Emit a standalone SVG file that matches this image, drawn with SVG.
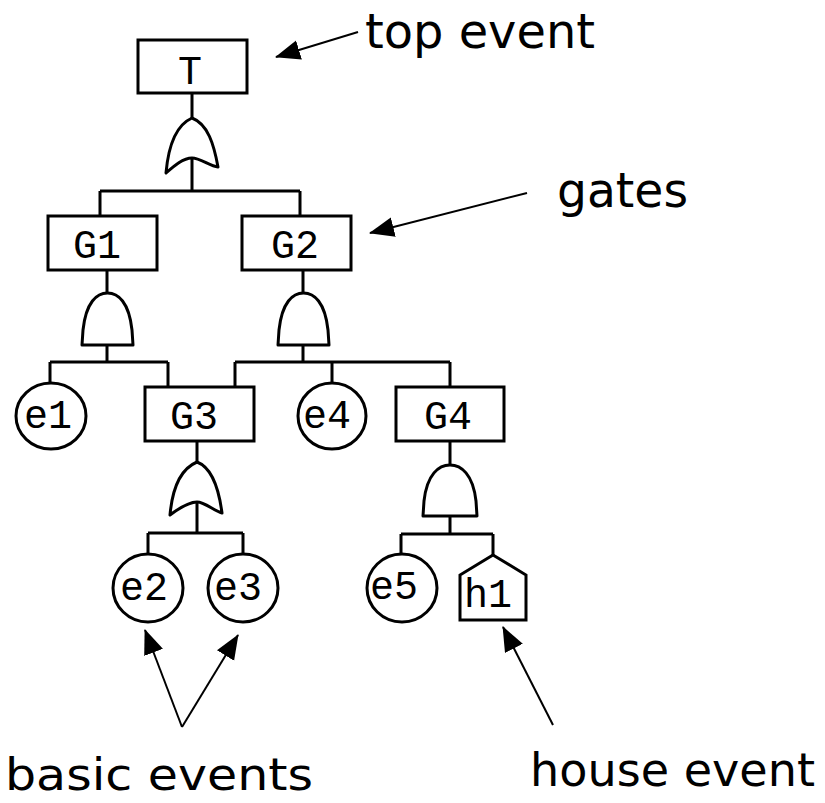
<svg xmlns="http://www.w3.org/2000/svg" width="825" height="803" viewBox="0 0 825 803">
<defs>
<style>
.b{fill:#fff;stroke:#000;stroke-width:3}
.g{fill:#fff;stroke:#000;stroke-width:3;stroke-linejoin:round}
.w{fill:none;stroke:#000;stroke-width:3}
.t{font-family:"Liberation Mono","DejaVu Sans Mono",monospace;font-size:40px;text-anchor:middle;fill:#000}
.lab{font-family:"DejaVu Sans","Open Sans",sans-serif;fill:#000}
.a{fill:none;stroke:#000;stroke-width:2;marker-end:url(#ah)}
</style>
<marker id="ah" markerUnits="userSpaceOnUse" markerWidth="26" markerHeight="22" refX="24" refY="10" orient="auto">
<path d="M0,0 L25,10 L0,20 Z" fill="#000"/>
</marker>
</defs>
<rect width="825" height="803" fill="#fff"/>

<g id="connectors">
<path class="w" d="M192,93 V118 M192,158 V191 M100,191 H300 M100,191 V216 M300,191 V216"/>
<path class="w" d="M107,270 V293 M107,345 V362 M50,362 H168 M50,362 V383 M168,362 V387"/>
<path class="w" d="M303,270 V293 M303,345 V362 M235,362 H450 M235,362 V387 M332,362 V383 M450,362 V387"/>
<path class="w" d="M197,441 V462 M197,502 V533 M148,533 H243 M148,533 V554 M243,533 V554"/>
<path class="w" d="M450,441 V465 M450,516 V534 M401,534 H493 M401,534 V554 M493,534 V555"/>
</g>

<g id="T"><rect class="b" x="138" y="40" width="109" height="53"/><text class="t" x="190" y="84">T</text></g>
<g id="orT"><path class="g" d="M166,173 C168,150 174,126 192,118 C208,124 214,145 218,167 C210,166 200,158 192,158 C183,158 174,166 166,173 Z"/></g>

<g id="G1"><rect class="b" x="48" y="216" width="109" height="54"/><text class="t" x="97" y="258">G1</text></g>
<g id="G2"><rect class="b" x="242" y="216" width="109" height="54"/><text class="t" x="295" y="258">G2</text></g>
<g id="andG1"><path class="g" d="M82,345 L83,330 C86,302 97,293 107.5,293 C118,293 129,302 132,330 L133,345 Z"/></g>
<g id="andG2"><path class="g" d="M278,345 L279,330 C282,302 293,293 303.5,293 C314,293 325,302 328,330 L329,345 Z"/></g>

<g id="e1"><ellipse class="b" cx="51" cy="416" rx="35" ry="33"/><text class="t" x="48" y="428">e1</text></g>
<g id="G3"><rect class="b" x="145" y="387" width="109" height="54"/><text class="t" x="194" y="429">G3</text></g>
<g id="e4"><ellipse class="b" cx="332" cy="416" rx="34" ry="33"/><text class="t" x="327" y="428">e4</text></g>
<g id="G4"><rect class="b" x="396" y="387" width="108" height="54"/><text class="t" x="448" y="429">G4</text></g>

<g id="orG3"><path class="g" d="M170,515 C172,492 178,470 197,462 C213,468 219,490 222,513 C214,511 205,502 197,502 C188,502 178,509 170,515 Z"/></g>
<g id="andG4"><path class="g" d="M423,516 L424,501 C427,474 439,465 450,465 C461,465 473,474 476,501 L477,516 Z"/></g>

<g id="e2"><ellipse class="b" cx="148" cy="588" rx="35" ry="34"/><text class="t" x="144" y="600">e2</text></g>
<g id="e3"><ellipse class="b" cx="243" cy="588" rx="35" ry="34"/><text class="t" x="238" y="600">e3</text></g>
<g id="e5"><ellipse class="b" cx="402" cy="588" rx="35" ry="34"/><text class="t" x="394" y="599">e5</text></g>
<g id="h1"><path class="b" d="M493,555 L526,575 L526,620 L460,620 L460,575 Z"/><text class="t" x="488" y="607">h1</text></g>

<g id="annotations">
<path class="a" d="M358,32 L276,57"/>
<path class="a" d="M527,193 L370,233"/>
<path class="a" d="M182,727 L145,630"/>
<path class="a" d="M182,727 L238,635"/>
<path class="a" d="M553,725 L503,627"/>
<text class="lab" x="365" y="48" font-size="48" textLength="230" lengthAdjust="spacingAndGlyphs">top event</text>
<text class="lab" x="557" y="207" font-size="48" textLength="131" lengthAdjust="spacingAndGlyphs">gates</text>
<text class="lab" x="5" y="790" font-size="44" textLength="308" lengthAdjust="spacingAndGlyphs">basic events</text>
<text class="lab" x="530" y="786" font-size="46" textLength="285" lengthAdjust="spacingAndGlyphs">house event</text>
</g>
</svg>
